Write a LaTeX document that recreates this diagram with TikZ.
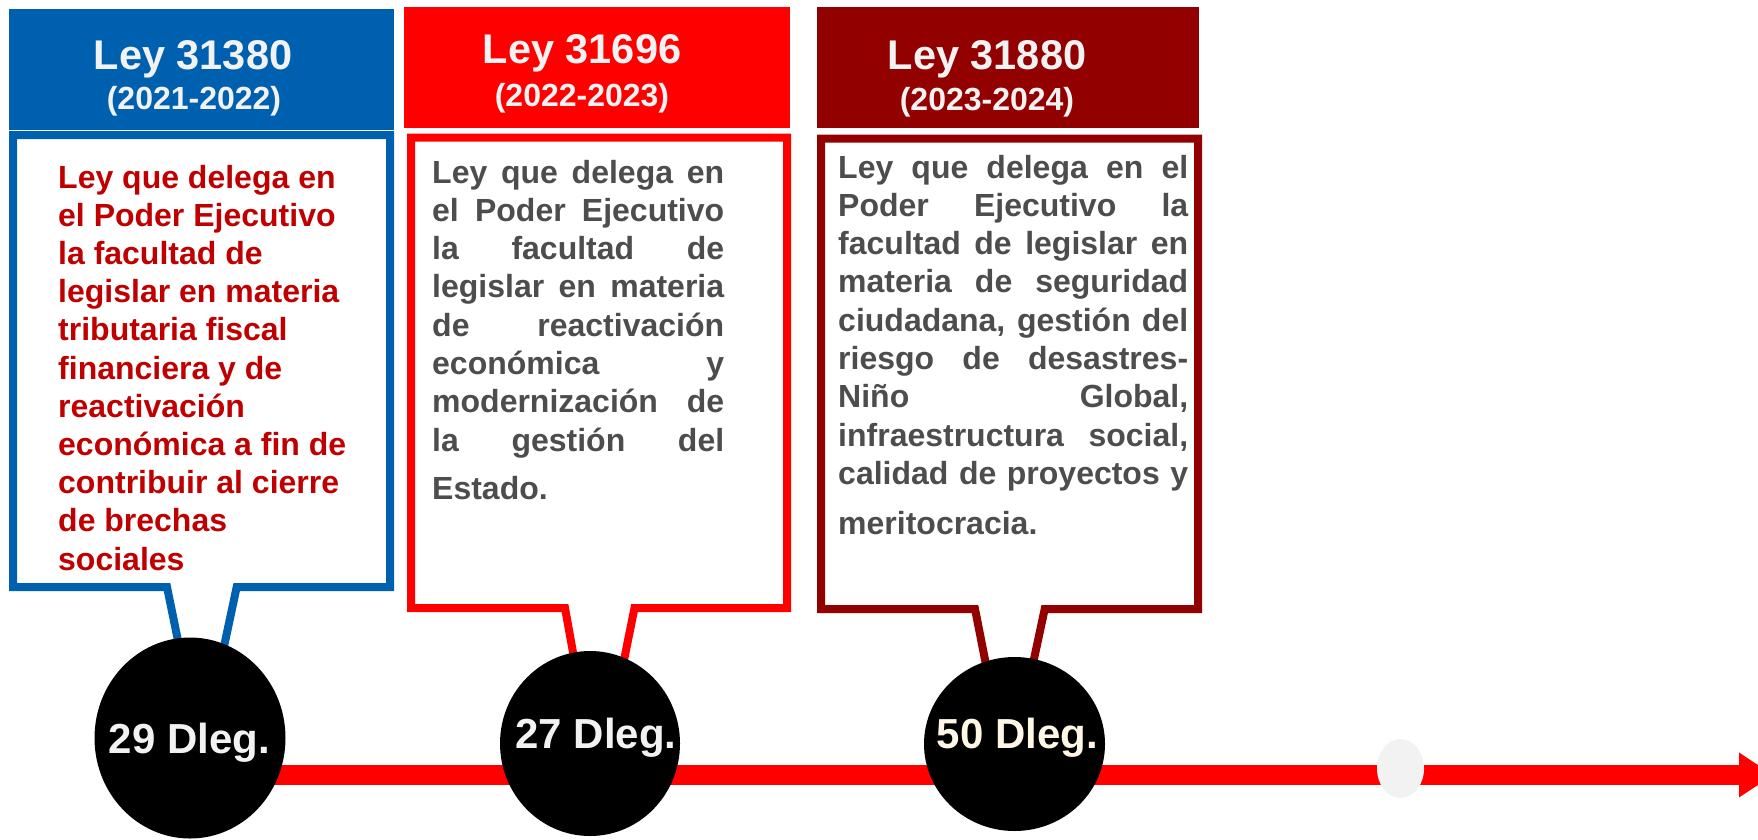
\documentclass[tikz,border=0pt]{standalone}
\usepackage{fontspec}
\setmainfont{Liberation Sans}
\usetikzlibrary{shapes.geometric, arrows.meta, positioning}
\definecolor{lawblue}{HTML}{0060B0}
\definecolor{lawred}{HTML}{FF0000}
\definecolor{lawdark}{HTML}{920000}
\definecolor{bodyred}{HTML}{C00000}
\definecolor{bodygray}{HTML}{4D4D4D}
\definecolor{softwhite}{HTML}{F2F2F2}
\definecolor{cream}{HTML}{FFF7E6}
\newlength\jw
\newcommand\jl[1]{\hbox to\jw{\spaceskip=\fontdimen2\font plus 1fil\relax #1}}

\begin{document}
\begin{tikzpicture}[x=1pt, y=-1pt,
        header/.style={fill=#1, inner sep=0pt, minimum height=121pt},
        title/.style={anchor=base, inner sep=0pt, text=softwhite, font=\bfseries\fontsize{41.5}{48}\selectfont},
        period/.style={anchor=base, inner sep=0pt, text=softwhite, font=\bfseries\fontsize{32}{38}\selectfont},
        callout/.style={draw=#1, line width=8pt, fill=white, miter limit=10},
        body/.style={anchor=base west, inner sep=0pt, font=\bfseries\fontsize{32}{38.3}\selectfont},
        dleg/.style={ellipse, fill=black, inner sep=0pt},
        dlegtext/.style={anchor=base, inner sep=0pt, text=softwhite, font=\bfseries\fontsize{42}{50}\selectfont},
        timeline/.style={draw=lawred, line width=20pt, -{Triangle[length=34pt, width=45pt, line width=0pt]}}]
    \useasboundingbox (0,0) rectangle (1758,839);
    % headers
    \node[header=lawblue, minimum width=385pt] (h1) at (201.5,69.5) {};
    \node[header=lawred, minimum width=386pt] (h2) at (597,67.5) {};
    \node[header=lawdark, minimum width=382pt] (h3) at (1008,67.5) {};
    \node[title] (ley1) at (193,69) {Ley 31380};
    \node[period] (per1) at (194,109) {(2021-2022)};
    \node[title] (ley2) at (582,63) {Ley 31696};
    \node[period] (per2) at (582,106) {(2022-2023)};
    \node[title] (ley3) at (987,69) {Ley 31880};
    \node[period] (per3) at (987,110) {(2023-2024)};
    % callout boxes
    \draw[callout=lawblue] (13,135) -- (390,135) -- (390,587) -- (236.7,587) -- (219,670)
        -- (184,670) -- (167,587) -- (13,587) -- cycle;
    \draw[callout=lawred] (411,137.5) -- (787,137.5) -- (787,608) -- (634.5,608) -- (620,680)
        -- (578,680) -- (565,608) -- (411,608) -- cycle;
    \draw[callout=lawdark] (821,138.5) -- (1198,138.5) -- (1198,609) -- (1044.7,609) -- (1029.5,680)
        -- (989,680) -- (975,609) -- (821,609) -- cycle;
    \node[body, text=bodyred] (txt1) at (58,188) {\vtop{\baselineskip=38.2pt
        \hbox{Ley que delega en}
        \hbox{el Poder Ejecutivo}
        \hbox{la facultad de}
        \hbox{legislar en materia}
        \hbox{tributaria fiscal}
        \hbox{financiera y de}
        \hbox{reactivación}
        \hbox{económica a fin de}
        \hbox{contribuir al cierre}
        \hbox{de brechas}
        \hbox{sociales}}};
    \node[body, text=bodygray] (txt2) at (432,183) {\setlength\jw{292pt}\vtop{
        \jl{Ley que delega en}
        \jl{el Poder Ejecutivo}
        \jl{la facultad de}
        \jl{legislar en materia}
        \jl{de reactivación}
        \jl{económica y}
        \jl{modernización de}
        \jl{la gestión del}
        \vskip 9.6pt
        \hbox{Estado.}}};
    \node[body, text=bodygray] (txt3) at (838,178) {\setlength\jw{350pt}\vtop{
        \jl{Ley que delega en el}
        \jl{Poder Ejecutivo la}
        \jl{facultad de legislar en}
        \jl{materia de seguridad}
        \jl{ciudadana, gestión del}
        \jl{riesgo de desastres-}
        \jl{Niño Global,}
        \jl{infraestructura social,}
        \jl{calidad de proyectos y}
        \vskip 11.7pt
        \hbox{meritocracia.}}};
    % timeline
    \coordinate (start) at (190,775);
    \coordinate (tip) at (1773,775);
    \draw[timeline] (start) -- (tip);
    \node[dleg, minimum width=191pt, minimum height=201pt] (c1) at (190,738) {};
    \node[dleg, minimum width=180pt, minimum height=185pt] (c2) at (590,743.5) {};
    \node[dleg, minimum width=181pt, minimum height=174pt] (c3) at (1014.5,744) {};
    \node[ellipse, fill=softwhite, inner sep=0pt, minimum width=47pt, minimum height=59pt] (dot) at (1400.5,768.5) {};
    \node[dlegtext] (n1) at (189.5,753) {29 Dleg.};
    \node[dlegtext] (n2) at (596,748) {27 Dleg.};
    \node[dlegtext, text=cream] (n3) at (1017.5,748) {50 Dleg.};
\end{tikzpicture}
\end{document}
